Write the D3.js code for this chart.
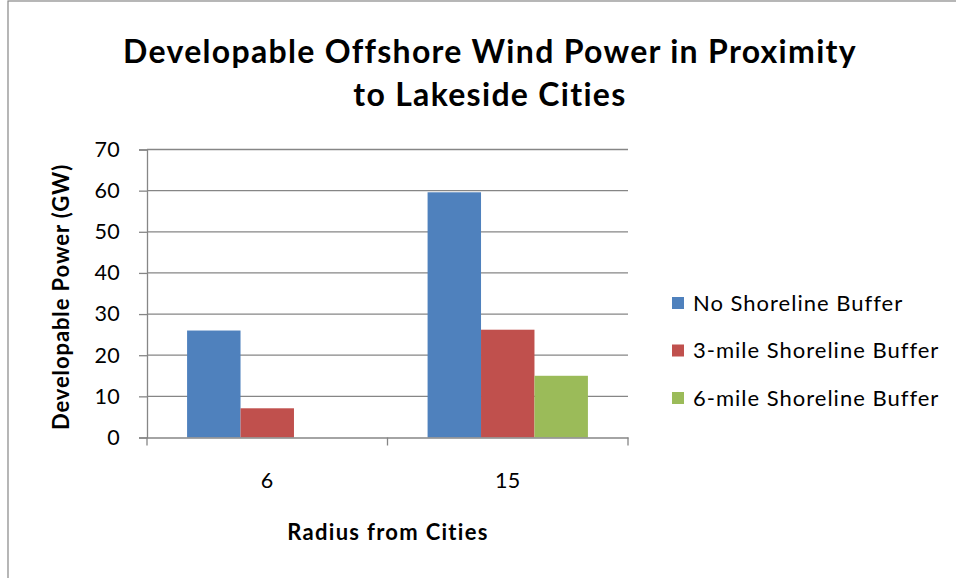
<!DOCTYPE html>
<html>
<head>
<meta charset="utf-8">
<script src="https://cdn.jsdelivr.net/npm/d3@7/dist/d3.min.js"></script>
<style>
  html, body { margin: 0; padding: 0; background: #fff; }
  svg { display: block; }
  text { font-family: Lato, "Open Sans", sans-serif; fill: #000; }
</style>
</head>
<body>
<svg id="chart" width="956" height="578"></svg>
<script>
// Chart data
const categories = ["6", "15"];
const seriesNames = ["No Shoreline Buffer", "3-mile Shoreline Buffer", "6-mile Shoreline Buffer"];
const seriesColors = ["#4F81BD", "#C0504D", "#9BBB59"];
const noBuffer = [26, 59.6];
const threeMileBuffer = [7.1, 26.2];
const sixMileBuffer = [0, 15];
const yTicks = [0, 10, 20, 30, 40, 50, 60, 70];

const seriesValues = [noBuffer, threeMileBuffer, sixMileBuffer];

const svg = d3.select("#chart");
const W = 956, H = 578;

// Outer chart frame
svg.append("rect").attr("x", 8).attr("y", 1).attr("width", W + 10).attr("height", H + 10)
  .attr("fill", "#fff").attr("stroke", "#878787").attr("stroke-width", 1.2);

const plot = { left: 147, right: 628, top: 149.5, bottom: 437.5 };

const x0 = d3.scaleBand().domain(categories).range([plot.left, plot.right]).paddingInner(0).paddingOuter(0);
const x1 = d3.scaleBand().domain(d3.range(seriesNames.length))
  .range([0, x0.bandwidth()]).paddingOuter(0.75).paddingInner(0);
const y = d3.scaleLinear().domain([0, 70]).range([plot.bottom, plot.top]);

// Horizontal gridlines
svg.append("g").selectAll("line").data(yTicks.filter(t => t > 0)).join("line")
  .attr("x1", plot.left).attr("x2", plot.right)
  .attr("y1", d => y(d)).attr("y2", d => y(d))
  .attr("stroke", "#868686").attr("stroke-width", 1.3);

// Bars
const groups = svg.append("g").selectAll("g").data(categories).join("g")
  .attr("transform", c => `translate(${x0(c)},0)`);
groups.selectAll("rect")
  .data((c, ci) => seriesValues.map((vals, si) => ({ si, v: vals[ci] })))
  .join("rect")
  .attr("x", d => x1(d.si))
  .attr("width", x1.bandwidth())
  .attr("y", d => y(d.v))
  .attr("height", d => y(0) - y(d.v))
  .attr("fill", d => seriesColors[d.si]);

// Y axis
const yAxis = d3.axisLeft(y).tickValues(yTicks).tickSize(8).tickPadding(19).tickFormat(d3.format("d"));
const gy = svg.append("g").attr("transform", `translate(${plot.left},0)`).call(yAxis);
gy.select(".domain").attr("stroke", "#868686").attr("stroke-width", 1.3);
gy.selectAll(".tick line").attr("stroke", "#868686").attr("stroke-width", 1.3);
gy.selectAll(".tick text").attr("font-size", 21.5).attr("font-family", "Lato, sans-serif")
  .attr("fill", "#000").attr("letter-spacing", 0.3);

// X axis
const xAxis = d3.axisBottom(x0).tickSize(0).tickPadding(0);
const gx = svg.append("g").attr("transform", `translate(0,${plot.bottom})`).call(xAxis);
gx.select(".domain").attr("stroke", "#868686").attr("stroke-width", 1.3);
gx.selectAll(".tick text").attr("font-size", 21.5).attr("font-family", "Lato, sans-serif")
  .attr("fill", "#000").attr("dy", 0).attr("y", 50).attr("letter-spacing", 0.3);
// Category separator ticks
svg.append("g").selectAll("line").data([plot.left, ...categories.map(c => x0(c) + x0.bandwidth())]).join("line")
  .attr("x1", d => d).attr("x2", d => d)
  .attr("y1", plot.bottom).attr("y2", plot.bottom + 8)
  .attr("stroke", "#868686").attr("stroke-width", 1.3);

// Title
const title = svg.append("text").attr("text-anchor", "middle").attr("font-weight", "bold")
  .attr("font-size", 32).attr("letter-spacing", 1.3);
title.append("tspan").attr("x", 490).attr("y", 63).text("Developable Offshore Wind Power in Proximity");
title.append("tspan").attr("x", 490).attr("y", 106).text("to Lakeside Cities");

// Axis titles
svg.append("text").attr("text-anchor", "middle").attr("font-weight", "bold").attr("font-size", 22)
  .attr("letter-spacing", 0.9)
  .attr("transform", "translate(69,297) rotate(-90)").text("Developable Power (GW)");
svg.append("text").attr("text-anchor", "middle").attr("font-weight", "bold").attr("font-size", 22)
  .attr("letter-spacing", 1.3)
  .attr("x", 388).attr("y", 540).text("Radius from Cities");

// Legend
const legend = svg.append("g").selectAll("g").data(seriesNames).join("g")
  .attr("transform", (d, i) => `translate(672,${303 + i * 47.5})`);
legend.append("rect").attr("x", 0).attr("y", -6).attr("width", 12).attr("height", 12)
  .attr("fill", (d, i) => seriesColors[i]);
legend.append("text").attr("x", 21).attr("y", 7.5).attr("font-size", 22)
  .attr("letter-spacing", 1).text(d => d);
</script>
</body>
</html>
